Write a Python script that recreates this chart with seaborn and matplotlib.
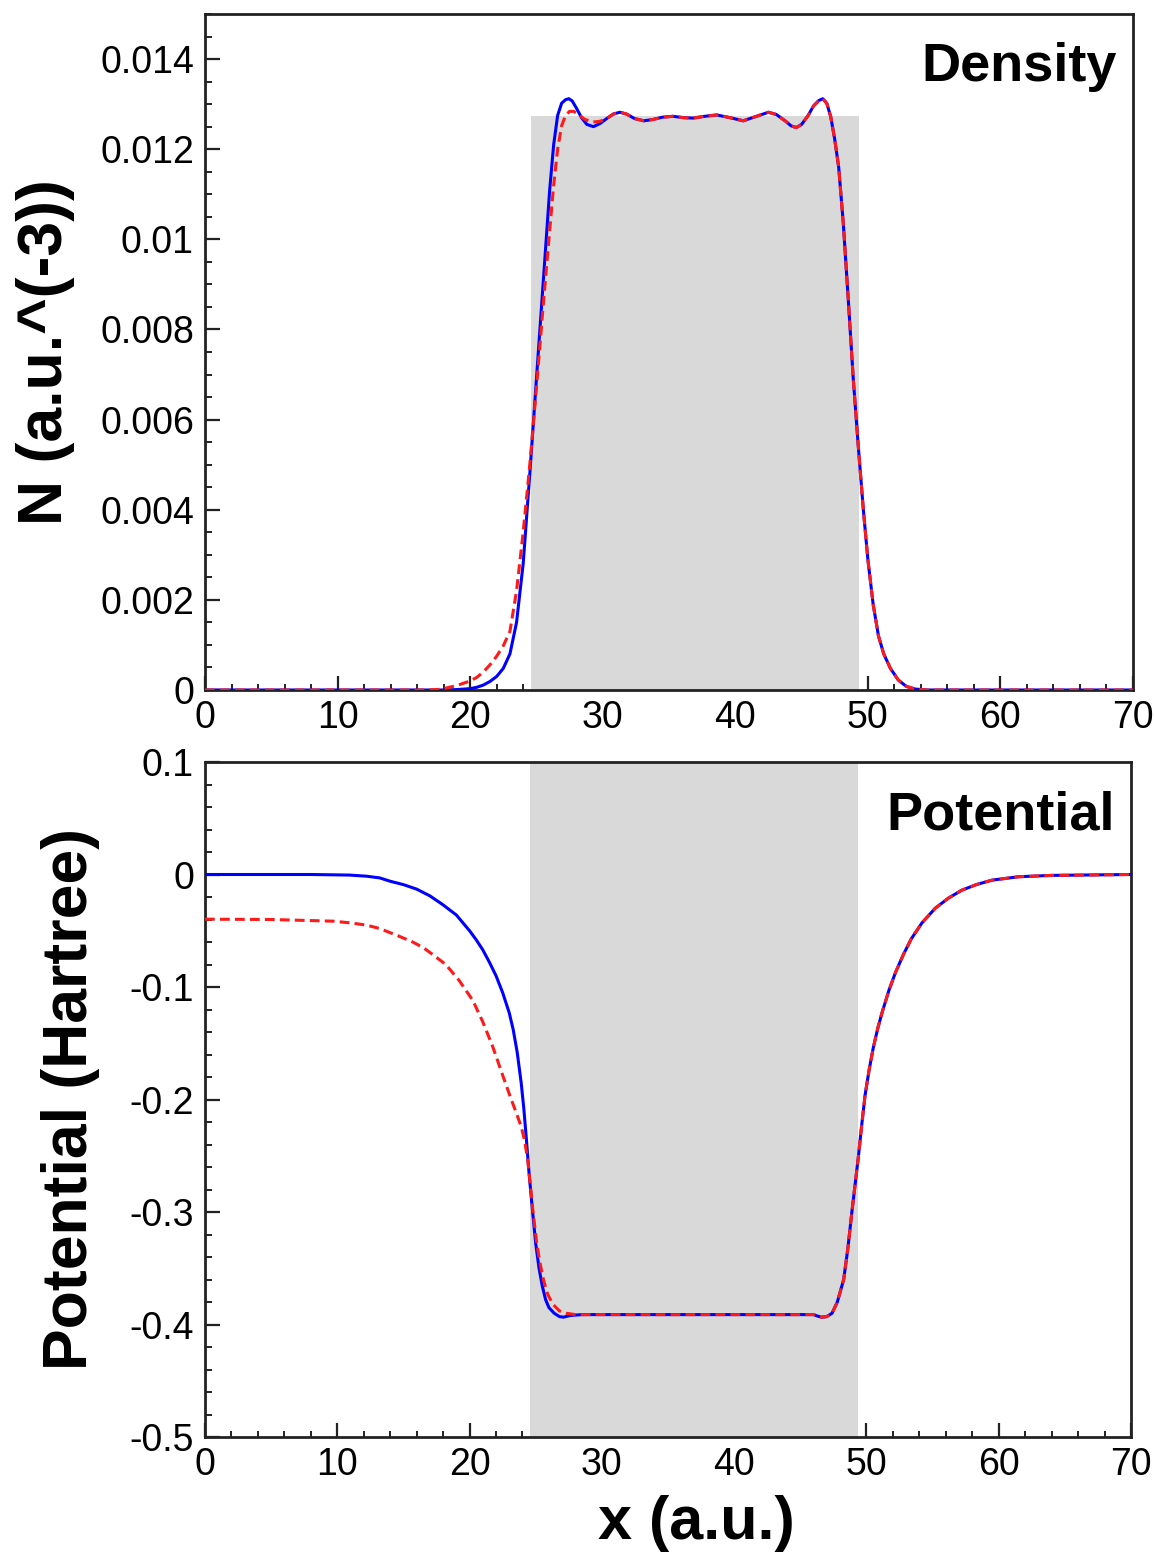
import matplotlib
matplotlib.use("Agg")
import matplotlib.pyplot as plt
import seaborn as sns
import pandas as pd
from matplotlib.ticker import MultipleLocator, FuncFormatter

# ---------------- data ----------------
# Density, blue solid curve
dens_blue_x = [0, 10, 18, 19.0, 20.0, 20.5, 21.0, 21.5, 22.0, 22.5, 23.0, 23.5,
               24.0, 24.5, 25.0, 25.5, 26.0, 26.3, 26.6, 26.9, 27.2, 27.45, 27.7,
               28.0, 28.4, 28.8, 29.3, 29.8, 30.3, 30.8, 31.3, 31.8, 32.4, 33.1,
               33.8, 34.5, 35.3, 36.1, 36.8, 37.7, 38.6, 39.6, 40.6, 41.5, 42.5,
               43.1, 43.8, 44.2, 44.6, 45.0, 45.5, 45.9, 46.3, 46.6, 46.9, 47.2,
               47.5, 47.8, 48.15, 48.53, 48.9, 49.28, 49.66, 50.0, 50.4, 50.8,
               51.2, 51.7, 52.3, 52.9, 53.6, 54.5, 60, 70]
dens_blue_y = [0, 0, 0, 0.00001, 0.00003, 0.00006, 0.00011, 0.00019, 0.0003,
               0.00048, 0.00080, 0.0015, 0.0028, 0.0048, 0.0069, 0.0090, 0.0111,
               0.0121, 0.01275, 0.01302, 0.01310, 0.01312, 0.01307, 0.01292,
               0.01270, 0.01255, 0.01250, 0.01257, 0.01268, 0.01278, 0.01282,
               0.01278, 0.01268, 0.01263, 0.01266, 0.01271, 0.01273, 0.01270,
               0.01269, 0.01273, 0.01276, 0.01270, 0.01263, 0.01272, 0.01282,
               0.01277, 0.01262, 0.01252, 0.01248, 0.01255, 0.01275, 0.01296,
               0.01308, 0.01312, 0.01302, 0.01272, 0.01222, 0.01160, 0.01034,
               0.00863, 0.0069, 0.0054, 0.0040, 0.0029, 0.0019, 0.0012, 0.0008,
               0.00048, 0.00022, 0.00008, 0.00002, 0, 0, 0]

# Density, red dashed curve
dens_red_x = [0, 10, 16.5, 17.5, 18.0, 19.0, 20.0, 20.5, 21.0, 21.5, 22.0, 22.5,
              23.0, 23.5, 24.0, 24.5, 25.0, 25.5, 26.0, 26.3, 26.6, 26.9, 27.2,
              27.5, 27.8, 28.1, 28.6, 29.2, 29.8, 30.3, 30.8, 31.3, 31.8, 32.4,
              33.1, 33.8, 34.5, 35.3, 36.1, 36.8, 37.7, 38.6, 39.6, 40.6, 41.5,
              42.5, 43.1, 43.8, 44.2, 44.6, 45.0, 45.5, 45.9, 46.3, 46.6, 46.9,
              47.2, 47.5, 47.8, 48.15, 48.53, 48.9, 49.28, 49.66, 50.0, 50.4,
              50.8, 51.2, 51.7, 52.3, 52.9, 53.6, 54.5, 60, 70]
dens_red_y = [0, 0, 0, 0.00001, 0.00003, 0.0001, 0.0002, 0.00028, 0.0004, 0.00056,
              0.00075, 0.00098, 0.0013, 0.0022, 0.0035, 0.0050, 0.0067, 0.0085,
              0.0102, 0.0112, 0.0120, 0.01252, 0.01275, 0.01284, 0.01284,
              0.01279, 0.01267, 0.01260, 0.01262, 0.01268, 0.01278, 0.01282,
              0.01278, 0.01268, 0.01263, 0.01266, 0.01271, 0.01273, 0.01270,
              0.01269, 0.01273, 0.01276, 0.01270, 0.01263, 0.01272, 0.01282,
              0.01277, 0.01262, 0.01252, 0.01248, 0.01255, 0.01275, 0.01296,
              0.01308, 0.01312, 0.01302, 0.01272, 0.01222, 0.01160, 0.01034,
              0.00863, 0.0069, 0.0054, 0.0040, 0.0029, 0.0019, 0.0012, 0.0008,
              0.00048, 0.00022, 0.00008, 0.00002, 0, 0, 0]

# Potential, blue solid curve
pot_blue_x = [0, 8, 10.9, 12.2, 13.2, 14.0, 15.0, 16.0, 17.0, 18.0, 19.0, 20.0,
              20.5, 21.0, 21.5, 22.0, 22.5, 23.0, 23.3, 23.6, 23.9, 24.1, 24.3,
              24.5, 24.75, 25.0, 25.25, 25.5, 25.75, 26.0, 26.4, 26.8, 27.1, 27.6,
              28.5, 46.0, 46.3, 46.6, 47.0, 47.4, 47.8, 48.28, 48.6, 48.9, 49.15,
              49.4, 49.65, 49.9, 50.2, 50.5, 50.85, 51.2, 51.7, 52.2, 52.8, 53.4,
              54.2, 55.2, 56.2, 57.2, 58.3, 59.5, 61.5, 64, 70]
pot_blue_y = [0, 0, -0.0005, -0.0015, -0.003, -0.006, -0.009, -0.013, -0.019,
              -0.027, -0.036, -0.050, -0.058, -0.067, -0.078, -0.090, -0.105,
              -0.123, -0.138, -0.158, -0.185, -0.208, -0.236, -0.266, -0.298,
              -0.328, -0.350, -0.366, -0.378, -0.385, -0.390, -0.393, -0.3935,
              -0.392, -0.3912, -0.3912, -0.3925, -0.3935, -0.393, -0.390, -0.380,
              -0.360, -0.332, -0.300, -0.275, -0.250, -0.222, -0.196, -0.174,
              -0.155, -0.137, -0.122, -0.103, -0.087, -0.071, -0.057, -0.043,
              -0.030, -0.021, -0.014, -0.009, -0.005, -0.002, -0.0008, 0]

# Potential, red dashed curve
pot_red_x = [0, 5, 9.7, 11.0, 12.2, 13.2, 14.7, 15.7, 16.5, 17.2, 18.2, 19.2,
             20.25, 21.0, 21.75, 22.4, 23.0, 23.5, 23.9, 24.15, 24.4, 24.6, 24.8,
             25.05, 25.3, 25.6, 25.9, 26.3, 26.8, 27.3, 28.0, 46.0, 46.3, 46.6,
             47.0, 47.4, 47.8, 48.28, 48.6, 48.9, 49.15, 49.4, 49.65, 49.9, 50.2,
             50.5, 50.85, 51.2, 51.7, 52.2, 52.8, 53.4, 54.2, 55.2, 56.2, 57.2,
             58.3, 59.5, 61.5, 64, 70]
pot_red_y = [-0.0397, -0.040, -0.0415, -0.043, -0.045, -0.048, -0.055, -0.060,
             -0.065, -0.071, -0.080, -0.094, -0.112, -0.131, -0.153, -0.175,
             -0.195, -0.211, -0.224, -0.236, -0.254, -0.277, -0.300, -0.325,
             -0.344, -0.361, -0.373, -0.382, -0.388, -0.390, -0.3912, -0.3912,
             -0.3925, -0.3935, -0.393, -0.390, -0.380, -0.360, -0.332, -0.300,
             -0.275, -0.250, -0.222, -0.196, -0.174, -0.155, -0.137, -0.122,
             -0.103, -0.087, -0.071, -0.057, -0.043, -0.030, -0.021, -0.014,
             -0.009, -0.005, -0.002, -0.0008, 0]

# shaded box region
box_x = [24.6, 49.35]
box_height = 0.01273

# axis tick values
dens_ticks = [0, 0.002, 0.004, 0.006, 0.008, 0.01, 0.012, 0.014]
pot_ticks = [0.1, 0, -0.1, -0.2, -0.3, -0.4, -0.5]
x_ticks = [0, 10, 20, 30, 40, 50, 60, 70]

# ---------------- style ----------------
sns.set_theme(style="ticks")
plt.rcParams["font.family"] = ["Liberation Sans", "DejaVu Sans"]
plt.rcParams["text.color"] = "black"
plt.rcParams["axes.labelcolor"] = "black"

fig = plt.figure(figsize=(11.55, 15.59), dpi=100)
ax1 = fig.add_axes([205 / 1155, 1 - 690 / 1559, 928 / 1155, 676 / 1559])
ax2 = fig.add_axes([205 / 1155, 1 - 1437 / 1559, 926 / 1155, 675 / 1559])

blue = "#0000ff"
red = "#ff1a1a"
gray = "#d9d9d9"
lw = 2.2
dash = (3.2, 1.7)


def draw(ax, bx, by, rx, ry):
    dfb = pd.DataFrame({"x": bx, "y": by})
    dfr = pd.DataFrame({"x": rx, "y": ry})
    sns.lineplot(data=dfb, x="x", y="y", ax=ax, color=blue, lw=lw,
                 estimator=None, sort=False, zorder=3)
    sns.lineplot(data=dfr, x="x", y="y", ax=ax, color=red, lw=lw,
                 estimator=None, sort=False, zorder=4)
    ax.lines[-1].set_dashes(dash)
    for ln in ax.lines:
        ln.set_solid_joinstyle("round")
        ln.set_dash_joinstyle("round")


ax1.fill_between(box_x, 0, box_height, color=gray, lw=0, zorder=1)
draw(ax1, dens_blue_x, dens_blue_y, dens_red_x, dens_red_y)
ax2.axvspan(box_x[0], box_x[1], color=gray, lw=0, zorder=1)
draw(ax2, pot_blue_x, pot_blue_y, pot_red_x, pot_red_y)

fmt = FuncFormatter(lambda v, p: "%g" % round(v, 6))

for ax in (ax1, ax2):
    ax.set_xlim(0, 70)
    ax.set_xticks(x_ticks)
    ax.xaxis.set_minor_locator(MultipleLocator(2))
    ax.xaxis.set_major_formatter(fmt)
    ax.yaxis.set_major_formatter(fmt)
    ax.tick_params(axis="both", which="both", direction="in", top=False,
                   right=False, colors="#222222", labelcolor="black",
                   labelsize=27)
    ax.tick_params(axis="x", which="major", length=10, width=1.6, pad=7)
    ax.tick_params(axis="x", which="minor", length=4, width=1.4)
    ax.tick_params(axis="y", which="major", length=11, width=1.6, pad=8)
    ax.tick_params(axis="y", which="minor", length=5, width=1.4)
    for s in ax.spines.values():
        s.set_linewidth(2.0)
        s.set_color("#222222")
    ax.set_facecolor("white")

ax1.set_ylim(0, 0.015)
ax1.set_yticks(dens_ticks)
ax1.yaxis.set_minor_locator(MultipleLocator(0.0005))
ax2.set_ylim(-0.5, 0.1)
ax2.set_yticks(pot_ticks)
ax2.yaxis.set_minor_locator(MultipleLocator(0.02))

ax1.set_xlabel("")
ax1.set_ylabel("N (a.u.^(-3))", fontsize=45, fontweight="bold", color="black")
ax1.yaxis.set_label_coords(-0.140, 0.5)
ax2.set_ylabel("Potential (Hartree)", fontsize=45, fontweight="bold", color="black")
ax2.yaxis.set_label_coords(-0.1134, 0.5)
ax2.set_xlabel("x (a.u.)", fontsize=44, fontweight="bold", color="black")
ax2.xaxis.set_label_coords(0.531, -0.086)

ax1.text(0.983, 0.9586, "Density", transform=ax1.transAxes, ha="right",
         va="top", fontsize=39, fontweight="bold", color="black")
ax2.text(0.983, 0.9585, "Potential", transform=ax2.transAxes, ha="right",
         va="top", fontsize=39, fontweight="bold", color="black")

fig.savefig("out.png", dpi=100)
